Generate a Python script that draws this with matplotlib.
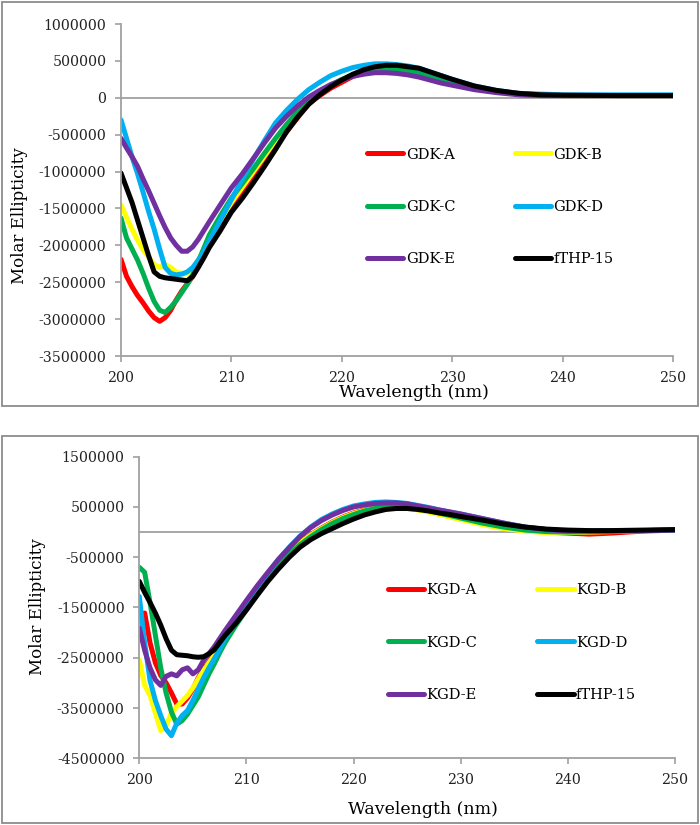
import numpy as np
import matplotlib
matplotlib.use("Agg")
import matplotlib.pyplot as plt
from matplotlib.patches import Rectangle
from matplotlib.ticker import FuncFormatter

plt.rcParams['font.family'] = ['DejaVu Serif']

# wavelength grids (nm)
wl_top = [200, 200.5, 201, 201.5, 202, 202.5, 203, 203.5, 204, 204.5, 205, 205.5,
          206, 206.5, 207, 207.5, 208, 209, 210, 211, 212, 213, 214, 215, 216, 217,
          218, 219, 220, 221, 222, 223, 224, 225, 226, 227, 228, 229, 230,
          232, 234, 236, 238, 240, 245, 250]
wl_bot = [200, 200.5, 201, 201.5, 202, 202.5, 203, 203.5, 204, 204.5, 205, 205.5,
          206, 206.5, 207, 207.5, 208, 209, 210, 211, 212, 213, 214, 215, 216, 217,
          218, 219, 220, 221, 222, 223, 224, 225, 226, 227, 228, 229, 230,
          232, 234, 236, 238, 240, 242, 244, 247, 250]

# molar ellipticity, in millions
gdk_a = [-2.19, -2.42, -2.56, -2.68, -2.78, -2.89, -2.98, -3.03, -2.98, -2.88, -2.74, -2.62, -2.52, -2.42, -2.28, -2.14, -2.00,
         -1.76, -1.52, -1.30, -1.10, -0.88, -0.66, -0.46, -0.27, -0.08, 0.03, 0.13, 0.21, 0.29, 0.35, 0.39, 0.41, 0.41, 0.40, 0.37, 0.33, 0.28, 0.24,
         0.15, 0.09, 0.06, 0.04, 0.03, 0.03, 0.03]
gdk_b = [-1.45, -1.62, -1.78, -1.93, -2.06, -2.16, -2.26, -2.30, -2.26, -2.30, -2.36, -2.38, -2.39, -2.33, -2.20, -2.05, -1.92,
         -1.66, -1.42, -1.21, -1.00, -0.79, -0.58, -0.39, -0.22, -0.06, 0.06, 0.16, 0.24, 0.30, 0.35, 0.38, 0.39, 0.39, 0.37, 0.34, 0.30, 0.26, 0.22,
         0.14, 0.09, 0.05, 0.04, 0.03, 0.03, 0.03]
gdk_c = [-1.63, -1.90, -2.05, -2.20, -2.38, -2.58, -2.76, -2.88, -2.91, -2.84, -2.75, -2.64, -2.53, -2.40, -2.22, -2.04, -1.86,
         -1.60, -1.36, -1.16, -0.96, -0.75, -0.55, -0.36, -0.19, -0.05, 0.07, 0.17, 0.25, 0.31, 0.35, 0.38, 0.39, 0.39, 0.37, 0.34, 0.30, 0.26, 0.22,
         0.14, 0.09, 0.05, 0.04, 0.03, 0.03, 0.03]
gdk_d = [-0.30, -0.55, -0.80, -1.03, -1.28, -1.54, -1.78, -2.05, -2.30, -2.38, -2.40, -2.39, -2.36, -2.30, -2.20, -2.08, -1.94,
         -1.66, -1.38, -1.10, -0.83, -0.58, -0.34, -0.17, -0.02, 0.11, 0.21, 0.30, 0.36, 0.41, 0.44, 0.46, 0.46, 0.45, 0.43, 0.40, 0.35, 0.30, 0.25,
         0.16, 0.10, 0.06, 0.05, 0.04, 0.04, 0.04]
gdk_e = [-0.55, -0.68, -0.80, -0.93, -1.10, -1.26, -1.43, -1.60, -1.76, -1.90, -2.00, -2.08, -2.08, -2.02, -1.92, -1.80, -1.68,
         -1.45, -1.22, -1.03, -0.82, -0.61, -0.41, -0.25, -0.11, 0.01, 0.10, 0.18, 0.24, 0.29, 0.32, 0.34, 0.34, 0.33, 0.31, 0.28, 0.24, 0.20, 0.17,
         0.11, 0.07, 0.04, 0.03, 0.03, 0.03, 0.03]
fthp_top = [-1.02, -1.22, -1.42, -1.66, -1.90, -2.14, -2.36, -2.42, -2.44, -2.45, -2.46, -2.47, -2.48, -2.42, -2.30, -2.17, -2.03,
            -1.80, -1.55, -1.36, -1.15, -0.93, -0.70, -0.46, -0.26, -0.09, 0.04, 0.15, 0.24, 0.32, 0.38, 0.42, 0.44, 0.44, 0.42, 0.40, 0.35, 0.30, 0.25,
            0.16, 0.10, 0.06, 0.04, 0.035, 0.03, 0.03]

kgd_a = [np.nan, -1.61, -2.20, -2.60, -2.85, -3.00, -3.20, -3.42, -3.42, -3.30, -3.12, -2.90, -2.72, -2.58, -2.42, -2.25, -2.08,
         -1.78, -1.46, -1.16, -0.87, -0.61, -0.39, -0.20, -0.05, 0.08, 0.20, 0.30, 0.38, 0.44, 0.48, 0.50, 0.50, 0.48, 0.45, 0.41, 0.36, 0.31, 0.26,
         0.17, 0.09, 0.03, 0.00, -0.02, -0.04, -0.02, 0.02, 0.04]
kgd_b = [-2.54, -3.05, -3.25, -3.60, -3.95, -3.85, -3.60, -3.47, -3.36, -3.25, -3.10, -2.92, -2.75, -2.60, -2.45, -2.28, -2.12,
         -1.80, -1.48, -1.17, -0.88, -0.62, -0.40, -0.21, -0.06, 0.07, 0.19, 0.29, 0.37, 0.43, 0.47, 0.49, 0.49, 0.47, 0.44, 0.40, 0.35, 0.30, 0.25,
         0.15, 0.07, 0.02, -0.01, -0.01, 0.00, 0.01, 0.03, 0.04]
kgd_c = [-0.70, -0.80, -1.40, -2.05, -2.70, -3.20, -3.58, -3.82, -3.75, -3.62, -3.45, -3.28, -3.05, -2.82, -2.62, -2.40, -2.20,
         -1.86, -1.54, -1.23, -0.94, -0.67, -0.44, -0.25, -0.09, 0.05, 0.17, 0.27, 0.35, 0.42, 0.47, 0.50, 0.51, 0.50, 0.47, 0.43, 0.38, 0.33, 0.28,
         0.18, 0.10, 0.04, 0.01, 0.00, 0.01, 0.02, 0.03, 0.04]
kgd_d = [-1.28, -2.20, -2.95, -3.35, -3.65, -3.92, -4.05, -3.80, -3.65, -3.55, -3.35, -3.12, -2.90, -2.70, -2.52, -2.33, -2.12,
         -1.78, -1.45, -1.12, -0.82, -0.54, -0.30, -0.08, 0.10, 0.25, 0.36, 0.45, 0.52, 0.56, 0.59, 0.60, 0.59, 0.57, 0.53, 0.49, 0.44, 0.40, 0.36,
         0.27, 0.18, 0.10, 0.05, 0.02, 0.01, 0.02, 0.03, 0.04]
kgd_e = [-1.91, -2.35, -2.70, -2.94, -3.05, -2.87, -2.82, -2.86, -2.74, -2.70, -2.82, -2.74, -2.55, -2.42, -2.28, -2.12, -1.96,
         -1.66, -1.36, -1.07, -0.80, -0.54, -0.31, -0.09, 0.09, 0.23, 0.34, 0.43, 0.50, 0.54, 0.57, 0.58, 0.58, 0.56, 0.52, 0.48, 0.44, 0.40, 0.36,
         0.27, 0.18, 0.10, 0.05, 0.02, 0.02, 0.02, 0.03, 0.04]
fthp_bot = [-0.98, -1.20, -1.40, -1.61, -1.85, -2.12, -2.35, -2.44, -2.45, -2.46, -2.48, -2.49, -2.48, -2.42, -2.34, -2.20, -2.06,
            -1.82, -1.55, -1.26, -0.98, -0.73, -0.50, -0.30, -0.15, -0.03, 0.07, 0.17, 0.26, 0.34, 0.40, 0.45, 0.47, 0.47, 0.45, 0.42, 0.38, 0.35, 0.31,
            0.24, 0.16, 0.10, 0.06, 0.04, 0.03, 0.03, 0.04, 0.05]

top_labels = ["GDK-A", "GDK-B", "GDK-C", "GDK-D", "GDK-E", "fTHP-15"]
bot_labels = ["KGD-A", "KGD-B", "KGD-C", "KGD-D", "KGD-E", "fTHP-15"]
colors = ["#ff0000", "#ffff00", "#00b050", "#00b0f0", "#7030a0", "#000000"]
x_ticks = [200, 210, 220, 230, 240, 250]
top_yticks = [1000000, 500000, 0, -500000, -1000000, -1500000, -2000000, -2500000, -3000000, -3500000]
bot_yticks = [1500000, 500000, -500000, -1500000, -2500000, -3500000, -4500000]

W, H = 700, 825
fig = plt.figure(figsize=(W / 100, H / 100), dpi=100)

gray = "#a0a0a0"


def px_box(l, t, r, b):
    return [l / W, 1 - b / H, (r - l) / W, (b - t) / H]


def panel(ax, wl, series, labels, yticks, legend_xy):
    lines = []
    for vals, lab, c in zip(series, labels, colors):
        ln, = ax.plot(wl, np.array(vals) * 1e6, color=c, lw=3.6, label=lab,
                      solid_capstyle="round", solid_joinstyle="round")
        lines.append(ln)
    ax.axhline(0, color=gray, lw=1.3, zorder=0)
    ax.set_xlim(200, 250)
    ax.set_ylim(min(yticks), max(yticks))
    ax.set_xticks(x_ticks)
    ax.set_yticks(yticks)
    ax.yaxis.set_major_formatter(FuncFormatter(lambda v, p: f"{v:.0f}"))
    for s in ["top", "right"]:
        ax.spines[s].set_visible(False)
    for s in ["left", "bottom"]:
        ax.spines[s].set_color(gray)
        ax.spines[s].set_linewidth(1.3)
    ax.tick_params(direction="out", length=4.5, width=1.2, color=gray,
                   labelsize=10.2, pad=6, labelcolor="#222222")
    order = [0, 2, 4, 1, 3, 5]
    ax.legend([lines[i] for i in order], [labels[i] for i in order],
              ncol=2, frameon=False, loc="upper left", bbox_to_anchor=legend_xy,
              borderpad=0, borderaxespad=0, handlelength=2.5, handletextpad=0.15,
              labelspacing=2.62, columnspacing=4.1, fontsize=10.5)


ax1 = fig.add_axes(px_box(121, 24, 673, 356))
panel(ax1, wl_top, [gdk_a, gdk_b, gdk_c, gdk_d, gdk_e, fthp_top], top_labels,
      top_yticks, (0.4457, 0.628))
ax2 = fig.add_axes(px_box(139.3, 456.7, 675, 758.3))
panel(ax2, wl_bot, [kgd_a, kgd_b, kgd_c, kgd_d, kgd_e, fthp_bot], bot_labels,
      bot_yticks, (0.464, 0.58))

fig.text(414 / W, 1 - 393 / H, "Wavelength (nm)", ha="center", va="center", fontsize=12.5)
fig.text(20 / W, 1 - 216 / H, "Molar Ellipticity", ha="center", va="center",
         rotation=90, fontsize=12)
fig.text(423 / W, 1 - 810 / H, "Wavelength (nm)", ha="center", va="center", fontsize=12.5)
fig.text(37 / W, 1 - 607 / H, "Molar Ellipticity", ha="center", va="center",
         rotation=90, fontsize=12)

for (l, t, r, b) in [(1.5, 2, 697.5, 406), (1.5, 436, 697.5, 823)]:
    fig.patches.append(Rectangle((l / W, 1 - b / H), (r - l) / W, (b - t) / H,
                                 transform=fig.transFigure, fill=False,
                                 edgecolor="#8c8c8c", lw=1.3))

fig.savefig("out.png", dpi=100)
